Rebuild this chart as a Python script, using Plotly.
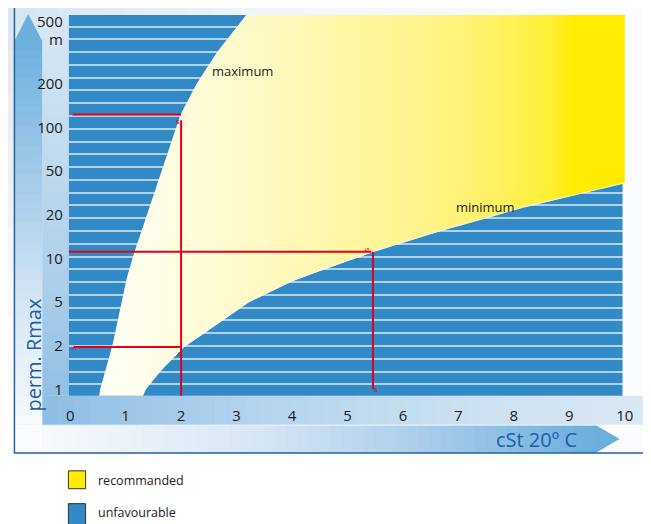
import numpy as np
import plotly.graph_objects as go

# ---------------- data ----------------
# y scale of the chart: equally spaced 1-2-5 steps (perm. Rmax in m)
SCALE_VALUES = [0.5, 1, 2, 5, 10, 20, 50, 100, 200, 500, 1000]
R_TICKS = [1, 2, 5, 10, 20, 50, 100, 200]
R_TICK_LABELS = ["1", "2", "5", "10", "20", "50", "100", "200"]
R_TOP_TICK = 500
R_TOP_LABEL = "500"
R_UNIT = "m"
X_TICKS = [0, 1, 2, 3, 4, 5, 6, 7, 8, 9, 10]

# "maximum" boundary (viscosity cSt, Rmax m)
MAX_X = [0.52, 0.54, 0.76, 0.93, 1.02, 1.15, 1.30, 1.45, 1.59, 1.74, 1.89, 1.99, 2.28, 2.65, 3.18]
MAX_R = [0.88, 1.0, 2.0, 5.0, 7.3, 10.8, 16, 25, 42, 65, 97, 123, 200, 390, 750]
# "minimum" boundary
MIN_X = [1.29, 1.36, 1.62, 2.05, 2.63, 3.22, 4.01, 4.60, 5.46, 6.70, 7.46, 8.17, 9.06, 10.0]
MIN_R = [0.88, 1.0, 1.33, 1.96, 3.1, 5.0, 7.0, 8.5, 11.1, 15.6, 18.8, 23.4, 30, 39]
REGION_CORNER_X = 10.3
REGION_CORNER_R = 1000

# red reading guides
GUIDE_H1_X = [0.06, 2.0]; GUIDE_H1_R = [123, 123]
GUIDE_V1_X = [2.0, 2.0]; GUIDE_V1_R = [112, 0.85]
GUIDE_H2_X = [-0.05, 5.43]; GUIDE_H2_R = [11.1, 11.1]
GUIDE_V2_X = [5.46, 5.46]; GUIDE_V2_R = [11.1, 1.0]
GUIDE_H3_X = [0.06, 2.0]; GUIDE_H3_R = [1.96, 1.96]

LABEL_MAX = ("maximum", 2.52, 260)
LABEL_MIN = ("minimum", 6.92, 23.7)

# ---------------- helpers ----------------
# the page places the figure 8 px in from the window's top-left corner
OX, OY = 8, 8
W, H = 651, 524
POS = np.arange(-1, len(SCALE_VALUES) - 1)


def pos(r):
    return np.interp(np.log(np.asarray(r, dtype=float)), np.log(SCALE_VALUES), POS)


def PX(x):
    return (x - OX) / W


def PY(y):
    return 1 - (y - OY) / H


def hex2rgb(h):
    h = h.lstrip("#")
    return [int(h[i:i + 2], 16) for i in (0, 2, 4)]


def lerp(stops, t):
    for (t0, c0), (t1, c1) in zip(stops[:-1], stops[1:]):
        if t0 <= t <= t1:
            a = (t - t0) / (t1 - t0) if t1 > t0 else 0
            r0, r1 = hex2rgb(c0), hex2rgb(c1)
            return "rgb(%d,%d,%d)" % tuple(round(r0[i] + (r1[i] - r0[i]) * a) for i in range(3))
    return stops[-1][1] if t > stops[-1][0] else stops[0][1]


shapes = []


def rect(x0, y0, x1, y1, color, line=None):
    d = dict(type="rect", xref="paper", yref="paper", x0=PX(x0), x1=PX(x1), y0=PY(y1), y1=PY(y0),
             fillcolor=color, layer="below", line=dict(width=0))
    if line:
        d["line"] = line
    shapes.append(d)


def strips(x0, y0, x1, y1, stops, n, horizontal=True):
    a0, a1 = (x0, x1) if horizontal else (y0, y1)
    for i in range(n):
        s0 = a0 + (a1 - a0) * i / n
        s1 = a0 + (a1 - a0) * (i + 1) / n
        c = lerp(stops, (s0 + s1) / 2)
        e = 0.6
        if horizontal:
            rect(s0, y0, min(s1 + e, x1), y1, c)
        else:
            rect(x0, s0, x1, min(s1 + e, y1), c)


def path(points, color):
    d = "M " + " L ".join("%f,%f" % (PX(x), PY(y)) for x, y in points) + " Z"
    shapes.append(dict(type="path", xref="paper", yref="paper", path=d, fillcolor=color,
                       line=dict(width=0), layer="below"))


PLOT_L, PLOT_R, PLOT_T, PLOT_B = 67, 633.3, 15, 398
BLUE = "#3189c6"
RIGHT = 680
BOTTOM = 540

# ---------------- background decoration ----------------
strips(0, 6, 11.5, BOTTOM, [(6, "#dde7f1"), (250, "#f3f7fb"), (400, "#ffffff"), (BOTTOM, "#ffffff")], 12, horizontal=False)
strips(11.5, 6, RIGHT, 455.5, [(11.5, "#d6e5f3"), (250, "#eef4fa"), (500, "#f8fbfd"), (RIGHT, "#fbfcfe")], 30)
# left arrow shaft + head
strips(12, 40, 40, 427, [(40, "#6cafdd"), (190, "#a8cdeb"), (300, "#d3e5f4"), (427, "#f7fafd")], 40, horizontal=False)
path([(12, 40.5), (25.5, 14), (39.5, 40.5)], "#6cafdd")
rect(12, 427, 40, 455.5, "#fbfcfe")
# y band
strips(40, 15, 67, 398, [(15, "#d8e7f4"), (300, "#a9cdea"), (398, "#92c0e4")], 30, horizontal=False)
# x band
strips(40, 398, RIGHT, 427, [(40, "#8dbde3"), (250, "#b3d3ed"), (450, "#c9dff1"), (RIGHT, "#dce9f5")], 40)
# bottom arrow
strips(40, 428, 604, 455.5, [(40, "#f7fafd"), (250, "#d8e7f5"), (400, "#b2d1ec"), (500, "#90c1e6"), (604, "#6caedc")], 50)
path([(603.5, 427.5), (628, 441.5), (603.5, 455.5)], "#6caedc")
# frame outline
shapes.append(dict(type="rect", xref="paper", yref="paper", x0=PX(11.5), x1=PX(RIGHT + 20), y0=PY(455.5), y1=PY(6),
                   fillcolor="rgba(0,0,0,0)", line=dict(color="#2461a3", width=1.5), layer="below"))
# legend swatches
rect(66.5, 473.5, 84, 491.5, "#ffec00", line=dict(color="#333333", width=1))
rect(66.5, 506.5, 84, BOTTOM, BLUE, line=dict(color="#333333", width=1))
# plot area colour (unfavourable zone)
rect(PLOT_L, PLOT_T, 631, PLOT_B, BLUE)

# ---------------- chart ----------------
fig = go.Figure()

region_x = MAX_X + [REGION_CORNER_X, REGION_CORNER_X] + MIN_X[::-1]
region_r = MAX_R + [REGION_CORNER_R, MIN_R[-1]] + MIN_R[::-1]
fig.add_trace(go.Scatter(
    x=region_x, y=pos(region_r), mode="lines", fill="toself", line=dict(width=0),
    fillgradient=dict(type="horizontal", start=0, stop=10,
                      colorscale=[[0.0, "#ffffff"], [0.05, "#fffff8"], [0.15, "#fffde8"], [0.25, "#fffbd4"],
                                  [0.35, "#fff9c2"], [0.5, "#fff6a2"], [0.6, "#fff490"], [0.7, "#fff275"],
                                  [0.8, "#fff04f"], [0.86, "#ffee2c"], [0.89, "#ffec00"], [1.0, "#ffec00"]]),
    hoverinfo="skip", showlegend=False))
fig.add_trace(go.Scatter(x=MIN_X, y=pos(MIN_R), mode="lines",
                         line=dict(color="rgba(255,255,255,0.85)", width=1), hoverinfo="skip", showlegend=False))

RED = "#e2001a"
for gx, gr in [(GUIDE_H1_X, GUIDE_H1_R), (GUIDE_V1_X, GUIDE_V1_R), (GUIDE_H2_X, GUIDE_H2_R),
               (GUIDE_V2_X, GUIDE_V2_R), (GUIDE_H3_X, GUIDE_H3_R)]:
    fig.add_trace(go.Scatter(x=gx, y=pos(gr), mode="lines", line=dict(color=RED, width=2),
                             hoverinfo="skip", showlegend=False))

FONT = "Open Sans"
annotations = []
for txt, lx, lr in [LABEL_MAX, LABEL_MIN]:
    annotations.append(dict(text=txt, x=lx, y=float(pos(lr)), xref="x", yref="y", xanchor="left",
                            yanchor="middle", showarrow=False, font=dict(family=FONT, size=13, color="#1a1a1a")))
# small end marks of the red guides
for mx, mr, ang in [(0.09, 123, 90), (1.95, 112, 0), (5.38, 11.6, 90), (5.52, 1.02, 0), (0.09, 1.9, 90), (1.98, 1.78, 0)]:
    annotations.append(dict(text="s", x=mx, y=float(pos(mr)), xref="x", yref="y", showarrow=False,
                            xanchor="center", yanchor="middle",
                            textangle=ang, font=dict(family=FONT, size=8, color=RED)))
annotations.append(dict(text=R_TOP_LABEL, x=PX(63.5), xref="paper", xanchor="right",
                        y=float(pos(R_TOP_TICK)) + 0.43, yref="y", yanchor="middle", showarrow=False,
                        font=dict(family=FONT, size=15, color="#1a1a1a")))
annotations.append(dict(text="perm. Rmax", x=PX(30), y=PY(357), xref="paper", yref="paper", textangle=-90,
                        xanchor="center", yanchor="middle",
                        showarrow=False, font=dict(family=FONT, size=20, color="#1d5ea6")))
annotations.append(dict(text="cSt 20º C", x=PX(543), y=PY(442), xref="paper", yref="paper",
                        xanchor="center", yanchor="middle",
                        showarrow=False, font=dict(family=FONT, size=20, color="#1d5ea6")))
annotations.append(dict(text="recommanded", x=PX(95), y=PY(483), xref="paper", yref="paper", xanchor="left",
                        yanchor="middle", showarrow=False, font=dict(family=FONT, size=12.5, color="#222222")))
annotations.append(dict(text="unfavourable", x=PX(95), y=PY(515.5), xref="paper", yref="paper", xanchor="left",
                        yanchor="middle", showarrow=False, font=dict(family=FONT, size=12.5, color="#222222")))

stripe_px = 26.7 + 12.85 * np.arange(29)
stripe_pos = list((391.5 - stripe_px) / 43.9)

fig.update_layout(
    width=W, height=H, margin=dict(l=0, r=0, t=0, b=0),
    paper_bgcolor="#ffffff", plot_bgcolor=BLUE,
    shapes=shapes, annotations=annotations, showlegend=False,
    xaxis=dict(domain=[PX(PLOT_L), PX(PLOT_R)], range=[(PLOT_L - 68.3) / 56.5, 10.0], tickvals=X_TICKS,
               ticktext=[str(v) for v in X_TICKS], showgrid=False, zeroline=False, showline=False,
               ticks="outside", ticklen=6, tickcolor="rgba(0,0,0,0)",
               tickfont=dict(family=FONT, size=15, color="#1a1a1a"), fixedrange=True),
    yaxis=dict(domain=[PY(PLOT_B), PY(PLOT_T)], range=[(391.5 - PLOT_B) / 43.9, (391.5 - PLOT_T) / 43.9],
               tickvals=list(pos(R_TICKS)) + [float(pos(R_TOP_TICK))], ticktext=R_TICK_LABELS + [R_UNIT],
               showgrid=False, zeroline=False, showline=False, ticks="outside", ticklen=2,
               tickcolor="rgba(0,0,0,0)", tickfont=dict(family=FONT, size=15, color="#1a1a1a"),
               minor=dict(tickmode="array", tickvals=stripe_pos, showgrid=True,
                          gridcolor="rgba(255,255,255,0.62)", gridwidth=1.6, ticks=""),
               fixedrange=True),
)

fig.write_html("out.html", config={"displayModeBar": False})
